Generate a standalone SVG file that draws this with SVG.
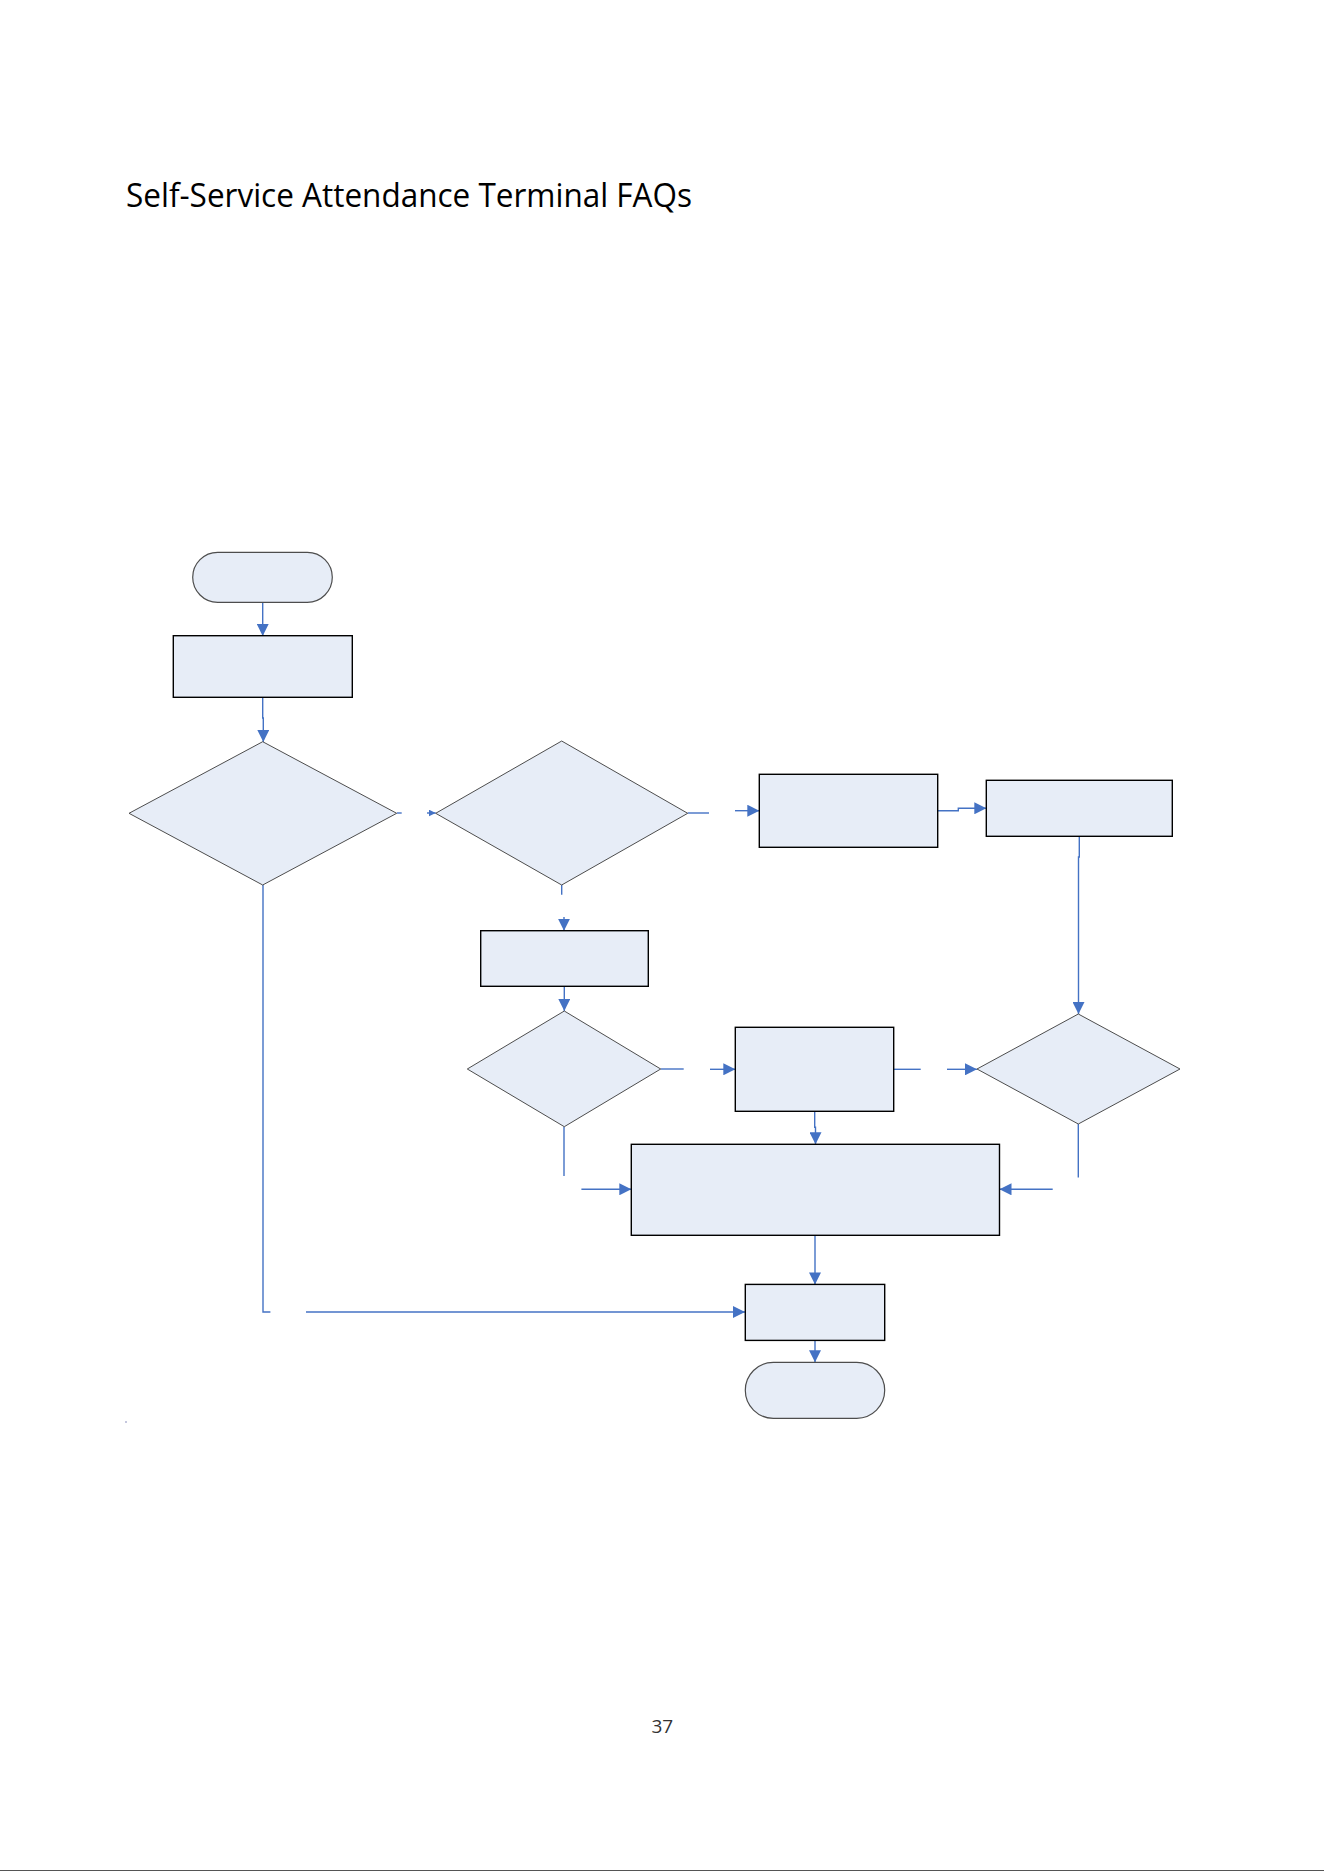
<svg xmlns="http://www.w3.org/2000/svg" width="1324" height="1872" viewBox="0 0 1324 1872">
<style>
.term{fill:#E7EDF7;stroke:#4d4d4d;stroke-width:1.2}
.box{fill:#E7EDF7;stroke:#000;stroke-width:1.4}
.dia{fill:#E7EDF7;stroke:#4d4d4d;stroke-width:1}
.c{fill:none;stroke:#4472C4;stroke-width:1.4}
.a{marker-end:url(#ah)}
.as{marker-end:url(#ahs)}
.title{font-family:"Open Sans","Liberation Sans",sans-serif;font-size:33px;fill:#000}
.pg{font-family:"Open Sans","Liberation Sans",sans-serif;font-size:19px;fill:#333}
</style>
<defs>
<marker id="ah" markerUnits="userSpaceOnUse" markerWidth="13" markerHeight="12" refX="12" refY="6" orient="auto">
<path d="M0,0 L12,6 L0,12 Z" fill="#4472C4"/>
</marker>
<marker id="ahs" markerUnits="userSpaceOnUse" markerWidth="8" markerHeight="8" refX="7" refY="3.5" orient="auto">
<path d="M0,0 L7,3.5 L0,7 Z" fill="#4472C4"/>
</marker>
</defs>
<rect width="1324" height="1872" fill="#fff"/>
<text class="title" x="126" y="207" textLength="566" lengthAdjust="spacingAndGlyphs">Self-Service Attendance Terminal FAQs</text>

<g id="connectors">
<path class="c a" d="M262.7,602 V636"/>
<path class="c a" d="M262.7,697 V718 H263.3 V742"/>
<path class="c" d="M263,885 V1312 H270.4"/>
<path class="c a" d="M306,1312 H745"/>
<path class="c" d="M397,813 H401.7"/>
<path class="c as" d="M427,813 H435.7"/>
<path class="c" d="M687.7,813 H709"/>
<path class="c a" d="M735,810.7 H759.3"/>
<path class="c a" d="M937.7,810.7 H958.3 V808.3 H986.3"/>
<path class="c a" d="M1079.3,836.3 V857 H1078.5 V1014"/>
<path class="c" d="M561.7,885 V894.7"/>
<path class="c a" d="M564,917 V930.7"/>
<path class="c a" d="M564.3,986.3 V1011"/>
<path class="c" d="M660.7,1069 H683.7"/>
<path class="c a" d="M710,1069.3 H735.3"/>
<path class="c" d="M893.7,1069.3 H920.7"/>
<path class="c a" d="M947,1069.3 H977"/>
<path class="c a" d="M814.7,1111.3 V1127.3 H815.5 V1144.3"/>
<path class="c" d="M1078.3,1124 V1177.5"/>
<path class="c a" d="M1052.7,1189.3 H999.5"/>
<path class="c" d="M564,1126.7 V1176"/>
<path class="c a" d="M581.4,1189.3 H631.3"/>
<path class="c a" d="M815,1235.3 V1284.4"/>
<path class="c a" d="M815,1340.3 V1362.3"/>
</g>

<g id="start"><rect class="term" x="192.7" y="552.3" width="139.6" height="50" rx="25" ry="25"/></g>
<g id="box1"><rect class="box" x="173.3" y="635.7" width="179" height="61.6"/></g>
<g id="decision1"><polygon class="dia" points="262.7,741.7 396.7,813.3 262.7,885 129,813.3"/></g>
<g id="decision2"><polygon class="dia" points="561.7,741 687.7,813.3 561.7,885 435.7,813.3"/></g>
<g id="box2"><rect class="box" x="759.3" y="774.3" width="178.4" height="73"/></g>
<g id="box3"><rect class="box" x="986.3" y="780.3" width="186" height="56"/></g>
<g id="box4"><rect class="box" x="480.7" y="930.7" width="167.6" height="55.6"/></g>
<g id="decision3"><polygon class="dia" points="564.3,1011 660.7,1069 564.3,1126.7 467.3,1069"/></g>
<g id="box5"><rect class="box" x="735.3" y="1027.3" width="158.4" height="84"/></g>
<g id="decision4"><polygon class="dia" points="1078.3,1014 1180,1069 1078.3,1124 977,1069"/></g>
<g id="box6"><rect class="box" x="631.3" y="1144.3" width="368.2" height="91"/></g>
<g id="box7"><rect class="box" x="745.3" y="1284.4" width="139.4" height="56"/></g>
<g id="end"><rect class="term" x="745.3" y="1362.3" width="139.4" height="56" rx="28" ry="28"/></g>

<rect x="125.5" y="1421.5" width="1" height="1" fill="#1a237e"/>
<text class="pg" x="651.5" y="1732.7">37</text>
<line x1="0" y1="1870.5" x2="1324" y2="1870.5" stroke="#555" stroke-width="1"/>
</svg>
